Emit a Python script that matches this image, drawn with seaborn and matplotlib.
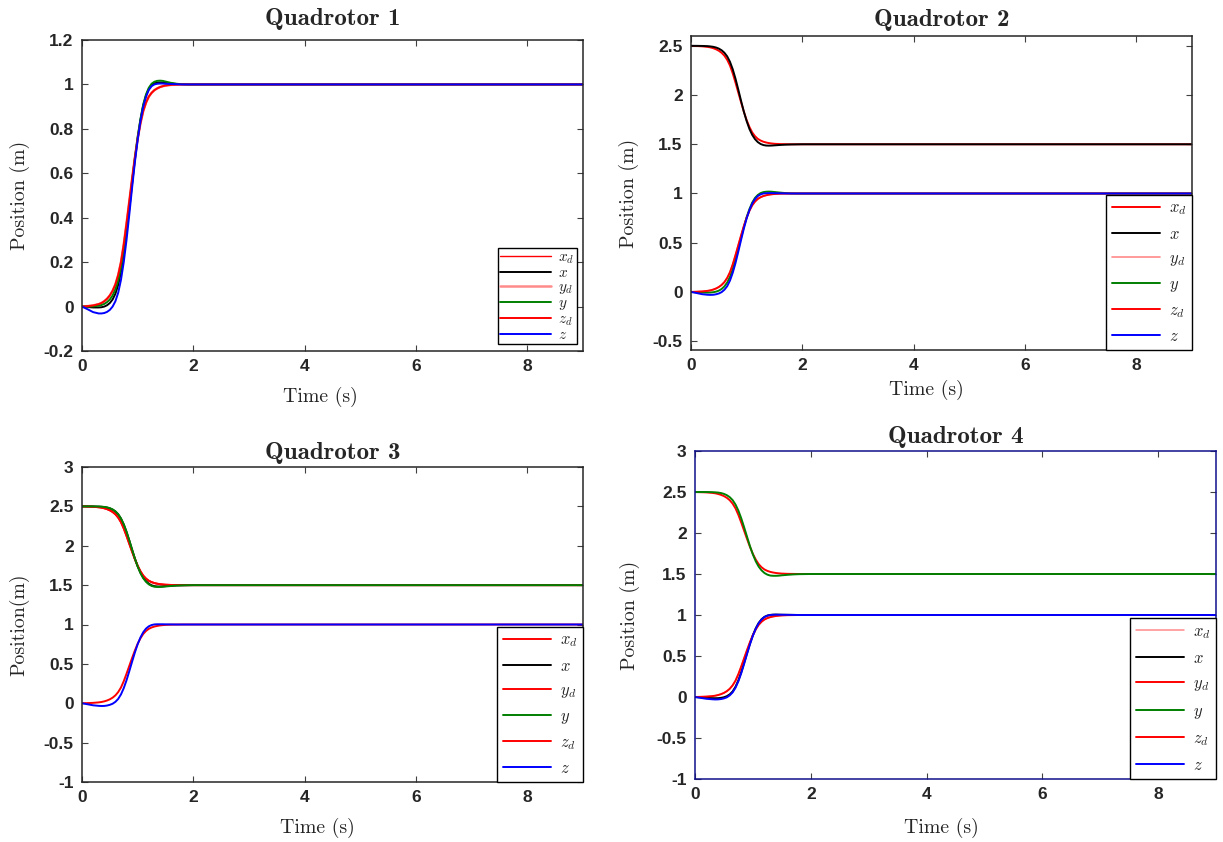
import matplotlib
matplotlib.use("Agg")
import matplotlib.pyplot as plt
import seaborn as sns
from matplotlib.ticker import FormatStrFormatter

# ---------------- data ----------------
t = [0.0, 0.1, 0.2, 0.3, 0.35, 0.4, 0.45, 0.5, 0.55, 0.6,
     0.65, 0.7, 0.75, 0.8, 0.85, 0.9, 0.95, 1.0, 1.05, 1.1,
     1.15, 1.2, 1.25, 1.3, 1.35, 1.4, 1.45, 1.5, 1.6, 1.7,
     1.8, 1.9, 2.0, 9.0]

ref_up = [0.000, 0.002, 0.005, 0.011, 0.016, 0.024, 0.035, 0.050, 0.071, 0.100,
          0.142, 0.200, 0.280, 0.375, 0.475, 0.575, 0.670, 0.755, 0.825, 0.880,
          0.918, 0.945, 0.962, 0.974, 0.982, 0.988, 0.992, 0.995, 0.998, 0.999,
          1.000, 1.000, 1.000, 1.000]
ref_down = [2.500, 2.498, 2.495, 2.489, 2.484, 2.476, 2.465, 2.450, 2.429, 2.400,
            2.358, 2.300, 2.220, 2.125, 2.025, 1.925, 1.830, 1.745, 1.675, 1.620,
            1.582, 1.555, 1.538, 1.526, 1.518, 1.512, 1.508, 1.505, 1.502, 1.501,
            1.500, 1.500, 1.500, 1.500]

q1_x = [0.000, -0.002, -0.004, -0.004, -0.003, 0.000, 0.006, 0.016, 0.032, 0.058,
        0.097, 0.155, 0.235, 0.332, 0.440, 0.552, 0.660, 0.758, 0.840, 0.905,
        0.950, 0.980, 0.997, 1.005, 1.008, 1.009, 1.008, 1.007, 1.004, 1.002,
        1.001, 1.000, 1.000, 1.000]
q1_y = [0.000, 0.000, 0.001, 0.004, 0.007, 0.012, 0.020, 0.032, 0.050, 0.078,
        0.118, 0.175, 0.255, 0.350, 0.455, 0.565, 0.670, 0.765, 0.845, 0.910,
        0.955, 0.985, 1.003, 1.012, 1.016, 1.017, 1.016, 1.013, 1.007, 1.003,
        1.001, 1.000, 1.000, 1.000]
q1_z = [0.000, -0.012, -0.025, -0.031, -0.031, -0.029, -0.024, -0.015, 0.000, 0.024,
        0.062, 0.120, 0.200, 0.300, 0.415, 0.535, 0.650, 0.750, 0.835, 0.900,
        0.945, 0.975, 0.992, 1.000, 1.003, 1.004, 1.004, 1.003, 1.002, 1.001,
        1.000, 1.000, 1.000, 1.000]

q2_x = [2.500, 2.500, 2.499, 2.497, 2.494, 2.490, 2.483, 2.472, 2.455, 2.430,
        2.393, 2.338, 2.262, 2.165, 2.055, 1.940, 1.830, 1.735, 1.655, 1.595,
        1.552, 1.522, 1.503, 1.492, 1.487, 1.486, 1.487, 1.489, 1.493, 1.496,
        1.498, 1.499, 1.500, 1.500]
q2_y = [0.000, -0.003, -0.006, -0.007, -0.006, -0.003, 0.003, 0.013, 0.030, 0.056,
        0.095, 0.152, 0.232, 0.330, 0.440, 0.552, 0.660, 0.760, 0.842, 0.908,
        0.955, 0.985, 1.004, 1.014, 1.018, 1.019, 1.018, 1.015, 1.009, 1.004,
        1.001, 1.000, 1.000, 1.000]
q2_z = [0.000, -0.011, -0.023, -0.029, -0.030, -0.029, -0.024, -0.016, -0.002, 0.022,
        0.058, 0.115, 0.195, 0.295, 0.410, 0.530, 0.645, 0.748, 0.832, 0.898,
        0.944, 0.974, 0.991, 1.000, 1.003, 1.004, 1.004, 1.003, 1.002, 1.001,
        1.000, 1.000, 1.000, 1.000]

q3_x = [2.500, 2.500, 2.499, 2.497, 2.495, 2.491, 2.485, 2.475, 2.459, 2.435,
        2.399, 2.345, 2.270, 2.175, 2.065, 1.950, 1.838, 1.740, 1.658, 1.595,
        1.550, 1.518, 1.498, 1.487, 1.483, 1.482, 1.484, 1.487, 1.492, 1.496,
        1.498, 1.499, 1.500, 1.500]
q3_y = [2.500, 2.500, 2.500, 2.498, 2.496, 2.493, 2.487, 2.477, 2.461, 2.437,
        2.401, 2.347, 2.272, 2.177, 2.067, 1.950, 1.836, 1.736, 1.652, 1.588,
        1.542, 1.510, 1.490, 1.480, 1.477, 1.477, 1.479, 1.483, 1.489, 1.494,
        1.497, 1.499, 1.500, 1.500]
q3_z = [0.000, -0.013, -0.026, -0.033, -0.035, -0.034, -0.029, -0.020, -0.006, 0.018,
        0.055, 0.112, 0.192, 0.292, 0.408, 0.528, 0.645, 0.750, 0.835, 0.902,
        0.948, 0.977, 0.993, 1.001, 1.003, 1.003, 1.003, 1.002, 1.001, 1.000,
        1.000, 1.000, 1.000, 1.000]

q4_x = [0.000, -0.004, -0.010, -0.014, -0.015, -0.014, -0.010, -0.003, 0.010, 0.032,
        0.068, 0.125, 0.205, 0.305, 0.420, 0.538, 0.652, 0.754, 0.838, 0.903,
        0.948, 0.977, 0.993, 1.001, 1.004, 1.005, 1.004, 1.003, 1.002, 1.001,
        1.000, 1.000, 1.000, 1.000]
q4_y = [2.500, 2.500, 2.500, 2.498, 2.496, 2.493, 2.487, 2.477, 2.461, 2.437,
        2.401, 2.347, 2.272, 2.177, 2.067, 1.952, 1.838, 1.738, 1.654, 1.590,
        1.544, 1.512, 1.492, 1.481, 1.478, 1.478, 1.480, 1.484, 1.490, 1.495,
        1.498, 1.499, 1.500, 1.500]
q4_z = [0.000, -0.011, -0.022, -0.028, -0.030, -0.029, -0.025, -0.017, -0.004, 0.020,
        0.056, 0.113, 0.193, 0.293, 0.408, 0.528, 0.644, 0.748, 0.833, 0.900,
        0.946, 0.976, 0.992, 1.000, 1.003, 1.004, 1.003, 1.003, 1.002, 1.001,
        1.000, 1.000, 1.000, 1.000]

titles = ["Quadrotor 1", "Quadrotor 2", "Quadrotor 3", "Quadrotor 4"]
ylabels = ["Position (m)", "Position (m)", "Position(m)", "Position (m)"]
xlabel = "Time (s)"
legend_labels = [r"$x_d$", r"$x$", r"$y_d$", r"$y$", r"$z_d$", r"$z$"]
xticks = [0, 2, 4, 6, 8]
yticks_q1 = [-0.2, 0, 0.2, 0.4, 0.6, 0.8, 1, 1.2]
yticks_q2 = [-0.5, 0, 0.5, 1, 1.5, 2, 2.5]
yticks_q34 = [-1, -0.5, 0, 0.5, 1, 1.5, 2, 2.5, 3]

series = [
    [ref_up, q1_x, ref_up, q1_y, ref_up, q1_z],
    [ref_down, q2_x, ref_up, q2_y, ref_up, q2_z],
    [ref_down, q3_x, ref_down, q3_y, ref_up, q3_z],
    [ref_up, q4_x, ref_down, q4_y, ref_up, q4_z],
]
for grp in series:
    for s in grp:
        assert len(s) == len(t)

# ---------------- styling ----------------
sns.set_style("ticks")
plt.rcParams["font.family"] = ["Liberation Sans", "DejaVu Sans"]
plt.rcParams["mathtext.fontset"] = "cm"
plt.rcParams["axes.unicode_minus"] = False

RED, PINK, BLACK, GREEN, BLUE = "#ff0000", "#ff8a8a", "#000000", "#008000", "#0000ff"
colors = [
    [RED, BLACK, PINK, GREEN, RED, BLUE],
    [RED, BLACK, PINK, GREEN, RED, BLUE],
    [RED, BLACK, RED, GREEN, RED, BLUE],
    [PINK, BLACK, RED, GREEN, RED, BLUE],
]
widths = [
    [1.0, 1.4, 1.8, 1.4, 1.4, 1.4],
    [1.4, 1.4, 1.2, 1.4, 1.4, 1.4],
    [1.4, 1.4, 1.4, 1.4, 1.4, 1.4],
    [1.1, 1.4, 1.4, 1.4, 1.4, 1.4],
]

fig = plt.figure(figsize=(12.23, 8.42), dpi=100)
W, H = 1223.0, 842.0
# (left, top, right, bottom) in pixels
boxes = [(82, 40, 583, 351), (691, 36, 1192, 350), (82, 467, 583, 782), (695, 451, 1216, 779)]
ylims = [(-0.2, 1.2), (-0.59, 2.6), (-1, 3), (-1, 3)]
yticks_all = [yticks_q1, yticks_q2, yticks_q34, yticks_q34]
spine_colors = ["#262626", "#262626", "#262626", "#10108a"]
title_pads = [10.5, 7, 5.5, 5.5]
xlabel_pads = [9, 5, 9, 11]
xlabel_x = [0.475, 0.469, 0.469, 0.472]
ylabel_pads = [10, 10, 10, 12]
leg_fontsize = [11, 12, 12, 12]
leg_spacing = [0.0, 0.55, 0.55, 0.62]
leg_borderpad = [0.15, 0.35, 0.35, 0.35]
leg_handlelen = [3.3, 2.9, 2.9, 2.9]
leg_anchor = [(0.988, 0.022), (1.0, 0.0), (1.0, 0.0), (1.0, 0.0)]

for i in range(4):
    l, tp, r, b = boxes[i]
    ax = fig.add_axes([l / W, 1 - b / H, (r - l) / W, (b - tp) / H])
    for k in range(6):
        sns.lineplot(x=t, y=series[i][k], ax=ax, color=colors[i][k],
                     linewidth=widths[i][k], label=legend_labels[k])
    ax.set_xlim(0, 9)
    ax.set_ylim(*ylims[i])
    ax.set_xticks(xticks)
    ax.set_yticks(yticks_all[i])
    ax.yaxis.set_major_formatter(FormatStrFormatter("%g"))
    ax.xaxis.set_major_formatter(FormatStrFormatter("%g"))
    ax.tick_params(direction="in", top=True, right=True, length=4, width=0.8,
                   color="#404040", labelsize=12.5, pad=6)
    for lab in ax.get_xticklabels() + ax.get_yticklabels():
        lab.set_fontweight("bold")
    for sp in ax.spines.values():
        sp.set_visible(True)
        sp.set_color(spine_colors[i])
        sp.set_linewidth(1.1)
    ax.set_title(titles[i], fontsize=18, fontfamily="cmb10", pad=title_pads[i])
    ax.set_xlabel(xlabel, fontsize=14.3, fontfamily="cmr10", labelpad=xlabel_pads[i])
    ax.xaxis.label.set_x(xlabel_x[i])
    ax.set_ylabel(ylabels[i], fontsize=14.3, fontfamily="cmr10", labelpad=ylabel_pads[i])
    leg = ax.legend(loc="lower right", bbox_to_anchor=leg_anchor[i],
                    borderaxespad=0, fontsize=leg_fontsize[i], frameon=True, fancybox=False,
                    framealpha=1, edgecolor="black", handlelength=leg_handlelen[i],
                    handletextpad=0.5, labelspacing=leg_spacing[i],
                    borderpad=leg_borderpad[i])
    leg.get_frame().set_linewidth(1.0)

fig.savefig("out.png", dpi=100, facecolor="white")
